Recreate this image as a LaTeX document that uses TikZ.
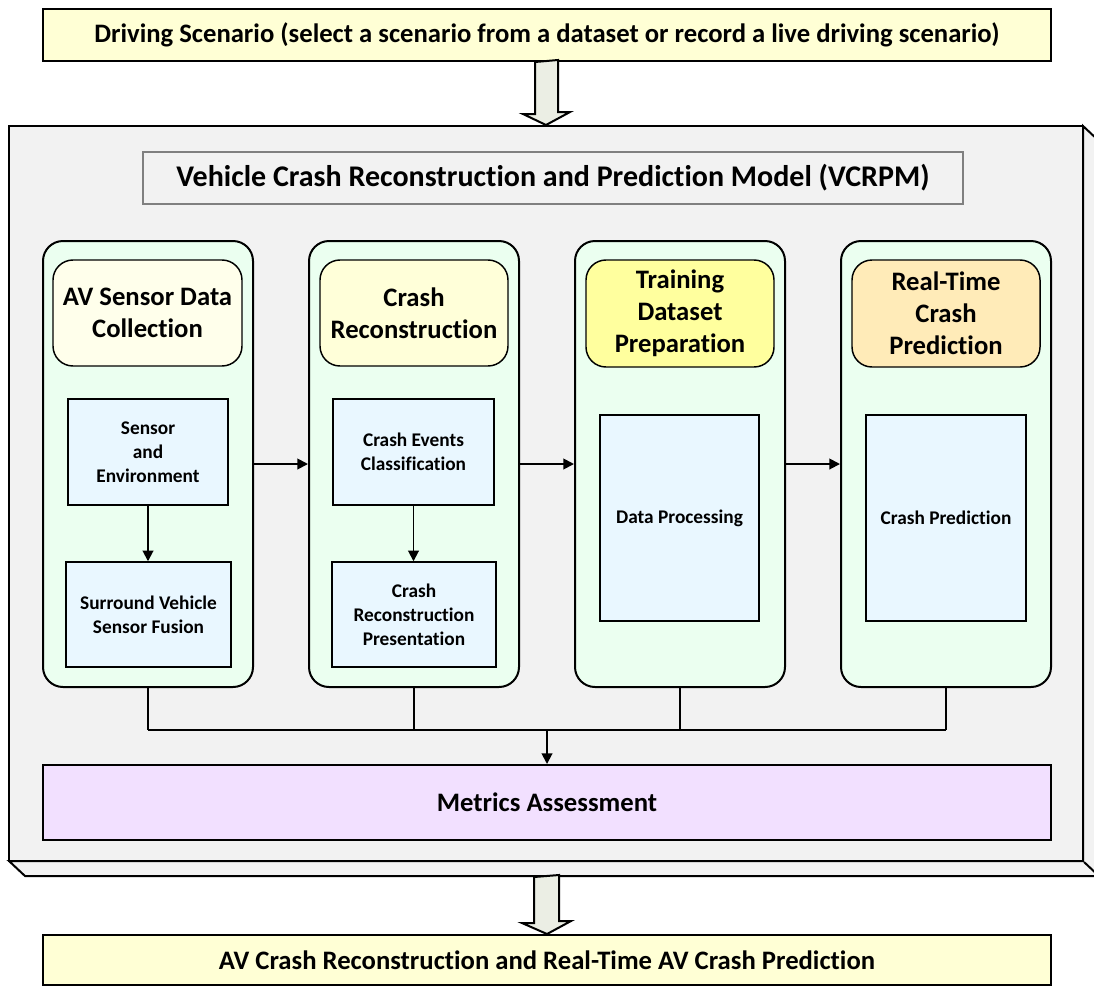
\documentclass[tikz,border=0pt]{standalone}
\usepackage{fontspec}
\setmainfont{Carlito}[Ligatures={NoCommon}]
\usetikzlibrary{arrows.meta,calc}
\definecolor{bannerfill}{HTML}{FFFFD5}
\definecolor{framefill}{HTML}{F2F2F2}
\definecolor{colfill}{HTML}{EBFFF0}
\definecolor{hdA}{HTML}{FFFFEB}
\definecolor{hdB}{HTML}{FFFFD9}
\definecolor{hdC}{HTML}{FFFF9E}
\definecolor{hdD}{HTML}{FFEBB8}
\definecolor{taskfill}{HTML}{E9F7FF}
\definecolor{metricfill}{HTML}{F2E0FF}
\definecolor{bigarrowfill}{HTML}{EBEEE4}
\tikzset{
  every node/.style={inner sep=0pt, font=\bfseries},
  % box size given in picture units (1 unit = 0.75pt)
  size/.style 2 args={minimum width=#1*0.75pt, minimum height=#2*0.75pt},
  banner/.style={draw, line width=1.5pt, fill=bannerfill, font=\bfseries\fontsize{20}{24}\selectfont},
  titlebox/.style={draw=gray, line width=0.8pt, fill=framefill, font=\bfseries\fontsize{22.5}{26}\selectfont},
  column/.style={draw, line width=1.5pt, fill=colfill, rounded corners=15pt},
  header/.style={draw, line width=1.1pt, rounded corners=15pt, align=center, font=\bfseries\fontsize{20}{24}\selectfont},
  task/.style={draw, line width=1.1pt, fill=taskfill, align=center, font=\bfseries\fontsize{14.5}{18}\selectfont},
  metricbox/.style={draw, line width=1.5pt, fill=metricfill, font=\bfseries\fontsize{20}{24}\selectfont},
  link/.style={line width=1.4pt, -{Triangle[length=8pt,width=8pt]}},
  plainlink/.style={line width=1.3pt},
  bigarrow/.style={draw, line width=1.5pt, fill=bigarrowfill, line join=miter},
}
\begin{document}
\begin{tikzpicture}[x=0.75pt,y=-0.75pt]
\useasboundingbox (0,0) rectangle (1094,986);
\clip (0,0) rectangle (1094,986);

% input and output banners
\node[banner, size={1008}{52}] (input) at (547,35) {Driving Scenario (select a scenario from a dataset or record a live driving scenario)};
\node[banner, size={1008}{50}] (output) at (547,960) {AV Crash Reconstruction and Real-Time AV Crash Prediction};

% raised frame of the model: side faces first, then the front face
\draw[line width=1.5pt, fill=framefill, line join=miter]
  (1083,126) -- (1099,141) -- (1099,876) -- (25,876) -- (9,861) -- (1083,861) -- cycle;
\node[draw, line width=1.5pt, fill=framefill, size={1074}{735}] (frame) at (546,493.5) {};
\draw[line width=1.5pt] (frame.south east) -- ++(16,15);

\node[titlebox, size={820}{52}] (title) at (553,178) {Vehicle Crash Reconstruction and Prediction Model (VCRPM)};

% big arrows into and out of the model
\draw[bigarrow] (input.south) ++(-12,0) -- ++(0,52) -- ++(-12,0) -- (frame.north) -- ++(24,-13) -- ++(-12,0) -- ++(0,-52) -- cycle;
\draw[bigarrow] ($(frame.south)+(0,15)$) ++(-12,0) -- ++(0,46) -- ++(-12,0) -- (output.north) -- ++(24,-13) -- ++(-12,0) -- ++(0,-46) -- cycle;

% the four stage columns
\node[column, size={210}{446}] (c1) at (148,464) {};
\node[column, size={210}{446}] (c2) at (414,464) {};
\node[column, size={210}{446}] (c3) at (680,464) {};
\node[column, size={210}{446}] (c4) at (946,464) {};

\node[header, fill=hdA, size={189}{106}] (h1) at (147.5,313) {AV Sensor Data\\Collection};
\node[header, fill=hdB, size={188}{106}] (h2) at (414,313) {Crash\\Reconstruction};
\node[header, fill=hdC, size={188}{107}] (h3) at (680,313.5) {Training\\Dataset\\Preparation};
\node[header, fill=hdD, size={188}{107}] (h4) at (946,313.5) {Real-Time\\Crash\\Prediction};

\node[task, size={160}{106}] (sensor) at (148,452) {Sensor\\and\\Environment};
\node[task, size={165}{105}] (fusion) at (148.5,614.5) {Surround Vehicle\\Sensor Fusion};
\node[task, size={161}{106}] (events) at (413.5,452) {Crash Events\\Classification};
\node[task, size={164}{105}] (present) at (414,614.5) {Crash\\Reconstruction\\Presentation};
\node[task, size={159}{206}] (process) at (679.5,518) {Data Processing};
\node[task, size={160}{206}] (predict) at (946,518) {Crash Prediction};

\node[metricbox, size={1008}{75}] (metrics) at (547,802.5) {Metrics Assessment};

% flow between the stages
\draw[link] (sensor.south) -- (fusion.north -| sensor.south);
\draw[link] (events.south) -- (present.north -| events.south);
\draw[link] (c1.east) -- (c2.west);
\draw[link] (c2.east) -- (c3.west);
\draw[link] (c3.east) -- (c4.west);

% every stage reports to the assessment
\coordinate (bus) at (547,730);
\draw[plainlink] (c1.south) -- (c1.south |- bus);
\draw[plainlink] (c2.south) -- (c2.south |- bus);
\draw[plainlink] (c3.south) -- (c3.south |- bus);
\draw[plainlink] (c4.south) -- (c4.south |- bus);
\draw[plainlink] (c1.south |- bus) -- (c4.south |- bus);
\draw[link] (metrics.north |- bus) -- (metrics.north);
\end{tikzpicture}
\end{document}
